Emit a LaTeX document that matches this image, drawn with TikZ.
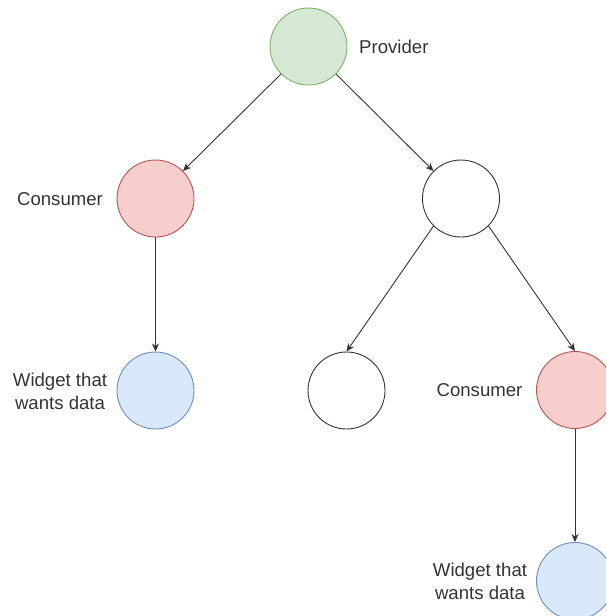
\documentclass[tikz,border=0pt]{standalone}
\usepackage{fontspec}
\setmainfont{Liberation Sans}
\usetikzlibrary{arrows.meta}
\definecolor{provfill}{HTML}{D5E8D4}
\definecolor{provline}{HTML}{82B366}
\definecolor{consfill}{HTML}{F8CECC}
\definecolor{consline}{HTML}{B85450}
\definecolor{widgfill}{HTML}{DAE8FC}
\definecolor{widgline}{HTML}{6C8EBF}
\definecolor{inkgray}{HTML}{333333}
\tikzset{
  dot/.style={circle, minimum size=77pt, inner sep=0pt, line width=0.9pt},
  plain/.style={dot, draw=inkgray, fill=white},
  provider/.style={dot, draw=provline, fill=provfill},
  consumer/.style={dot, draw=consline, fill=consfill},
  widget/.style={dot, draw=widgline, fill=widgfill},
  lbl/.style={font=\fontsize{18.6}{23}\selectfont, text=inkgray, inner sep=0pt, align=center},
  link/.style={draw=inkgray, line width=0.9pt, -{Stealth[length=8pt,width=7pt,inset=2.5pt]}}
}
\begin{document}
\begin{tikzpicture}[x=1pt, y=-1pt]
\useasboundingbox (0,0) rectangle (606,616);
\clip (0,0) rectangle (606,616);

% tree of circles
\node[provider] (prov) at (308.5,46.5) {};
\node[consumer] (consL) at (155.5,198.5) {};
\node[plain] (midR) at (461,198.5) {};
\node[widget] (widL) at (155.5,390.5) {};
\node[plain] (leafM) at (346.5,390.5) {};
\node[consumer] (consR) at (575,390) {};
\node[widget] (widR) at (575,581) {};

% labels
\node[lbl, anchor=west] (tProv) at (359,46.5) {Provider};
\node[lbl] (tConsL) at (60,199) {Consumer};
\node[lbl] (tWidL) at (60,391) {Widget that\\wants data};
\node[lbl] (tConsR) at (479.5,390) {Consumer};
\node[lbl] (tWidR) at (480,581) {Widget that\\wants data};

% connectors
\draw[link] (prov.south west) -- (consL.north east);
\draw[link] (prov.south east) -- (midR.north west);
\draw[link] (consL.south) -- (widL.north);
\draw[link] (midR.south west) -- (leafM.north);
\draw[link] (midR.south east) -- (consR.north);
\draw[link] (consR.south) -- (widR.north);
\end{tikzpicture}
\end{document}
